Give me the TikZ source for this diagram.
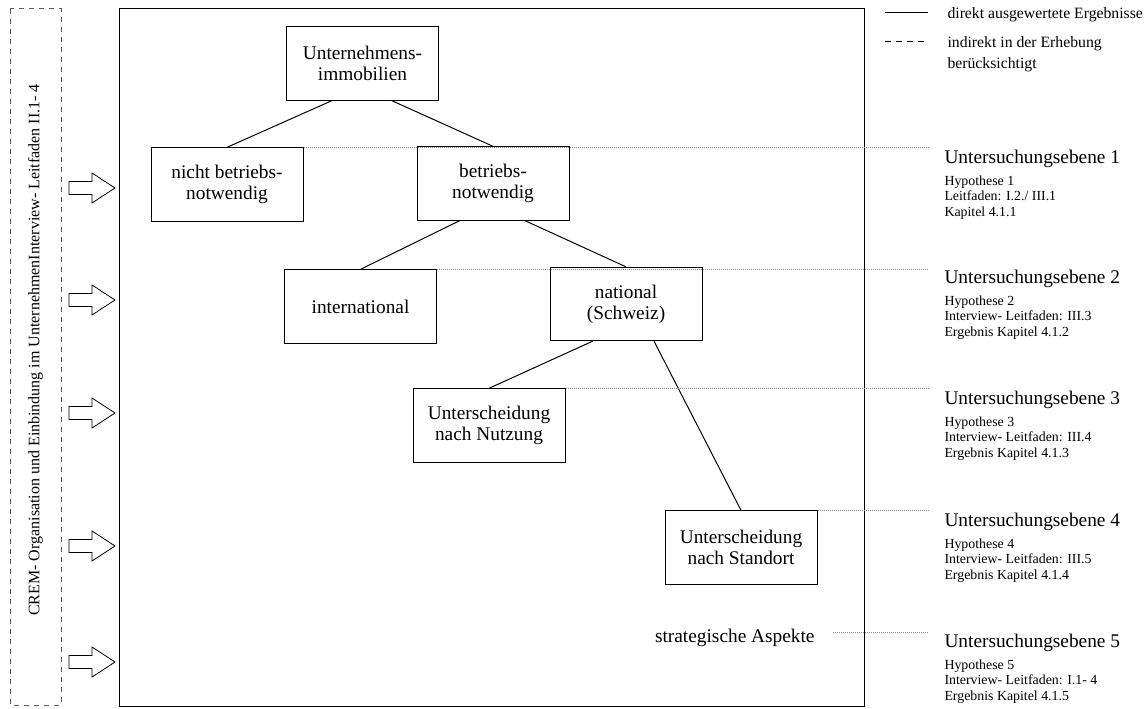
\documentclass[tikz,border=0pt]{standalone}
\usepackage{fontspec}
\setmainfont{Liberation Serif}
\usetikzlibrary{positioning,calc}
\definecolor{ink}{HTML}{000000}
\definecolor{guide}{HTML}{8C8C8C}
\definecolor{frame}{HTML}{5A5A5A}
\newcommand{\boxfont}{\fontsize{14.5pt}{15.75pt}\selectfont}
\newcommand{\notefont}{\fontsize{10.4pt}{11.6pt}\selectfont}
\newcommand{\keyfont}{\fontsize{11.8pt}{15.75pt}\selectfont}
\newcommand{\sidefont}{\fontsize{12pt}{14pt}\selectfont}
\tikzset{
  every picture/.style={line width=0.75pt, draw=ink, text=ink},
  unit/.style={draw=ink, fill=white, align=center, minimum width=114pt, minimum height=55pt, inner sep=2pt, font=\boxfont},
  branch/.style={draw=ink},
  guideline/.style={draw=guide, line width=0.6pt, dash pattern=on 0.6pt off 0.9pt},
  levelhead/.style={anchor=base west, inner sep=0pt, font=\boxfont},
  levelnote/.style={anchor=north west, inner sep=0pt, align=left, font=\notefont},
  keytext/.style={anchor=north west, inner sep=0pt, align=left, font=\keyfont},
  inlet/.style={draw=ink, fill=white, line width=0.6pt},
}

\begin{document}
\begin{tikzpicture}[x=0.75pt, y=-0.75pt]
\useasboundingbox (0,0) rectangle (1146,709);
% outer frames
\draw[draw=frame, dash pattern=on 3.75pt off 3.75pt] (10,9) rectangle (61,705);
\node[rotate=90, font=\sidefont, inner sep=0pt] (crem) at (35.5,350) {CREM- Organisation und Einbindung im UnternehmenInterview- Leitfaden II.1- 4};
\draw (119,9) rectangle (864,706);
\foreach \y in {188,300,413,546,662}
  \draw[inlet] (69,\y-6.5) -- (92,\y-6.5) -- (92,\y-15) -- (115,\y) -- (92,\y+15) -- (92,\y+6.5) -- (69,\y+6.5) -- cycle;

% tree
\node[unit] (corp) at (362.5,63.5) {Unternehmens-\\immobilien};
\node[unit] (spare) at (227,184.5) {nicht betriebs-\\notwendig};
\node[unit] (core) at (493,183.5) {betriebs-\\notwendig};
\node[unit] (intl) at (360.5,306.5) {international};
\node[unit] (natl) at (626,304) {national\\(Schweiz)};
\node[unit] (use) at (489,425.5) {Unterscheidung\\nach Nutzung};
\node[unit] (site) at (741,547.5) {Unterscheidung\\nach Standort};
\node[font=\boxfont, anchor=east, inner sep=0pt] (strat) at (815,638) {strategische Aspekte};

\draw[branch] ([xshift=-23pt]corp.south) -- (spare.north);
\draw[branch] ([xshift=22pt]corp.south) -- (core.north);
\draw[branch] ([xshift=-25pt]core.south) -- (intl.north);
\draw[branch] ([xshift=24pt]core.south) -- (natl.north);
\draw[branch] ([xshift=-25pt]natl.south) -- (use.north);
\draw[branch] ([xshift=21pt]natl.south) -- (site.north);

% levels
\coordinate (rim) at (929,0);
\coordinate (s5) at (833,632);
\draw[guideline] (spare.north east) -- (spare.north east -| rim);
\draw[guideline] (intl.north east) -- (intl.north east -| rim);
\draw[guideline] (use.north east) -- (use.north east -| rim);
\draw[guideline] (site.north east) -- (site.north east -| rim);
\draw[guideline] (s5) -- (s5 -| rim);

\node[levelhead] (lv1) at (944,163.5) {Untersuchungsebene 1};
\node[levelnote] (hy1) at (944,175.4) {Hypothese 1\\Leitfaden: I.2./ III.1\\Kapitel 4.1.1};
\node[levelhead] (lv2) at (944,283.5) {Untersuchungsebene 2};
\node[levelnote] (hy2) at (944,295.4) {Hypothese 2\\Interview- Leitfaden: III.3\\Ergebnis Kapitel 4.1.2};
\node[levelhead] (lv3) at (944,404.5) {Untersuchungsebene 3};
\node[levelnote] (hy3) at (944,416.4) {Hypothese 3\\Interview- Leitfaden: III.4\\Ergebnis Kapitel 4.1.3};
\node[levelhead] (lv4) at (944,526.5) {Untersuchungsebene 4};
\node[levelnote] (hy4) at (944,538.4) {Hypothese 4\\Interview- Leitfaden: III.5\\Ergebnis Kapitel 4.1.4};
\node[levelhead] (lv5) at (944,647.5) {Untersuchungsebene 5};
\node[levelnote] (hy5) at (944,659.4) {Hypothese 5\\Interview- Leitfaden: I.1- 4\\Ergebnis Kapitel 4.1.5};

% key
\coordinate (k1) at (885,13);
\coordinate (k2) at (885,42);
\draw (k1) -- ++(43,0);
\draw[dash pattern=on 4.5pt off 3.75pt] (k2) -- ++(43,0);
\node[keytext] (keysolid) at (947,7) {direkt ausgewertete Ergebnisse};
\node[keytext] (keydash) at (947,36) {indirekt in der Erhebung\\berücksichtigt};
\end{tikzpicture}
\end{document}
